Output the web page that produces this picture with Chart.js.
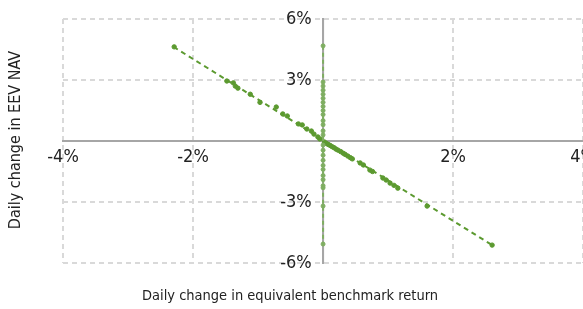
<!DOCTYPE html>
<html>
<head>
<meta charset="utf-8">
<style>
  html, body { margin: 0; padding: 0; background: #fff; overflow: hidden; }
  body { width: 583px; height: 309px; }
  #wrap { width: 602px; height: 312px; margin-top: -3px; }
</style>
<script src="https://cdn.jsdelivr.net/npm/chart.js@4"></script>
</head>
<body>
<div id="wrap"><canvas id="scatterChart"></canvas></div>
<script>
// Daily change in equivalent benchmark return (x) vs daily change in EEV NAV (y), in %
const benchX = [-2.29, -1.48, -1.38, -1.35, -1.31, -1.12, -0.97, -0.72, -0.62, -0.55, -0.38, -0.32, -0.25, -0.18, -0.14, -0.08, -0.05,
  0.02, 0.05, 0.08, 0.11, 0.14, 0.17, 0.2, 0.23, 0.27, 0.31, 0.34, 0.38, 0.42, 0.45, 0.57, 0.62, 0.72, 0.76, 0.92, 0.97, 1.03, 1.09, 1.15, 1.6, 2.6];
const navY = [4.63, 2.95, 2.86, 2.7, 2.6, 2.3, 1.9, 1.67, 1.33, 1.23, 0.84, 0.79, 0.59, 0.49, 0.34, 0.2, 0.1,
  -0.05, -0.12, -0.17, -0.22, -0.28, -0.33, -0.4, -0.45, -0.52, -0.6, -0.66, -0.74, -0.82, -0.88, -1.08, -1.18, -1.43, -1.5, -1.82, -1.92, -2.07, -2.18, -2.32, -3.2, -5.12];

// days where the benchmark change is zero
const zeroDayY = [4.68, 2.9, 2.7, 2.5, 2.3, 2.1, 1.9, 1.7, 1.5, 1.3, 1.0, 0.8, 0.5, 0.3, -0.2, -0.45, -0.7, -0.95, -1.2, -1.4, -1.7, -1.9, -2.2, -2.3, -3.2, -5.07];

// trend lines (end points)
const trendX = [-2.3, 2.6];
const trendY = [4.63, -5.12];
const zeroTrendY = [4.68, -5.07];

const xTicks = [-4, -2, 2, 4];
const yTicks = [-6, -3, 3, 6];

const xTitle = "Daily change in equivalent benchmark return";
const yTitle = "Daily change in EEV NAV";

const darkGreen = "#5c9a30";
const lightGreen = "#7fae62";
const fontFamily = "'Liberation Sans Narrow', 'DejaVu Sans Condensed', sans-serif";

function toPoints(xs, ys) {
    return xs.map((x, i) => ({ x: x, y: ys[i] }));
}

const ctx = document.getElementById("scatterChart").getContext("2d");

new Chart(ctx, {
    type: "scatter",
    data: {
        datasets: [
            {
                label: "Zero trend",
                type: "line",
                data: zeroTrendY.map(y => ({ x: 0, y: y })),
                borderColor: lightGreen,
                borderWidth: 2,
                borderDash: [4, 3],
                pointRadius: 0,
                fill: false
            },
            {
                label: "Zero days",
                data: zeroDayY.map(y => ({ x: 0, y: y })),
                backgroundColor: lightGreen,
                borderColor: lightGreen,
                pointRadius: 2
            },
            {
                label: "Trend",
                type: "line",
                data: toPoints(trendX, trendY),
                borderColor: darkGreen,
                borderWidth: 2,
                borderDash: [5, 4],
                pointRadius: 0,
                fill: false
            },
            {
                label: "EEV",
                data: toPoints(benchX, navY),
                backgroundColor: darkGreen,
                borderColor: darkGreen,
                pointRadius: 2.2
            }
        ]
    },
    options: {
        responsive: true,
        maintainAspectRatio: false,
        animation: false,
        layout: { padding: { left: 63, right: 0, top: 22, bottom: 46 } },
        plugins: {
            legend: { display: false },
            tooltip: { enabled: false }
        },
        scales: {
            x: {
                type: "linear",
                min: -4,
                max: 4,
                position: { y: 0 },
                afterBuildTicks: axis => { axis.ticks = xTicks.map(v => ({ value: v })); },
                ticks: {
                    color: "#222",
                    font: { family: fontFamily, size: 18 },
                    padding: 6,
                    maxRotation: 0,
                    callback: v => v + "%"
                },
                grid: { color: "#d9d9d9", lineWidth: 2, drawTicks: false },
                border: { display: true, color: "#a6a6a6", width: 2, dash: [5, 4] }
            },
            y: {
                type: "linear",
                min: -6,
                max: 6,
                position: { x: 0 },
                afterBuildTicks: axis => { axis.ticks = yTicks.map(v => ({ value: v })); },
                ticks: {
                    color: "#222",
                    font: { family: fontFamily, size: 18 },
                    // centred axes ignore tick padding, so keep a gap with trailing spaces
                    callback: v => v + "%\u2002\u2009"
                },
                grid: { color: "#d9d9d9", lineWidth: 2, drawTicks: false },
                border: { display: true, color: "#a6a6a6", width: 2, dash: [5, 4] }
            }
        }
    },
    plugins: [{
        // solid zero axes under the points, plus the two axis titles at the edges
        id: "zeroAxes",
        beforeDatasetsDraw(chart) {
            const { ctx, chartArea, scales } = chart;
            const x0 = scales.x.getPixelForValue(0);
            const y0 = scales.y.getPixelForValue(0);
            ctx.save();
            ctx.strokeStyle = "#a6a6a6";
            ctx.lineWidth = 2;
            ctx.beginPath();
            ctx.moveTo(chartArea.left, y0);
            ctx.lineTo(chartArea.right, y0);
            ctx.moveTo(x0, chartArea.top);
            ctx.lineTo(x0, chartArea.bottom);
            ctx.stroke();
            ctx.restore();
        },
        afterDraw(chart) {
            const { ctx } = chart;
            ctx.save();
            ctx.fillStyle = "#222";
            ctx.textAlign = "center";
            ctx.textBaseline = "middle";
            ctx.font = "14.5px " + fontFamily;
            ctx.fillText(xTitle, 290, 299);
            ctx.translate(16, 143);
            ctx.rotate(-Math.PI / 2);
            ctx.font = "16px " + fontFamily;
            ctx.fillText(yTitle, 0, 0);
            ctx.restore();
        }
    }]
});
</script>
</body>
</html>
